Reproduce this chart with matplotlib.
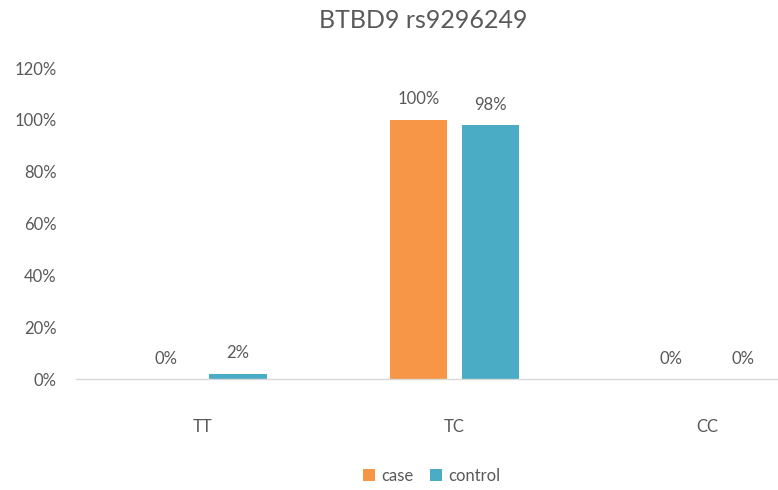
import matplotlib
matplotlib.use("Agg")
import matplotlib.pyplot as plt
import numpy as np

categories = ["TT", "TC", "CC"]
case_values = [0, 100, 0]
control_values = [2, 98, 0]
series_names = ["case", "control"]
y_ticks = [0, 20, 40, 60, 80, 100, 120]

plt.rcParams["font.family"] = ["Lato", "DejaVu Sans"]
text_color = "#595959"
colors = ["#F79646", "#4BACC6"]

fig = plt.figure(figsize=(7.78, 4.90), dpi=100)
ax = fig.add_axes([76 / 778, 111 / 490, 757 / 778, 311 / 490])

x = np.arange(len(categories))
width = 0.226
offset = 0.142
series = [case_values, control_values]
for i, (vals, name, col) in enumerate(zip(series, series_names, colors)):
    pos = x + (offset if i else -offset)
    ax.bar(pos, vals, width=width, color=col, label=name)
    for px, v in zip(pos, vals):
        ax.annotate(f"{v}%", (px, v), xytext=(0, 9), textcoords="offset points",
                    ha="center", va="bottom", fontsize=12, color=text_color)

ax.set_xlim(-0.5, 2.5)
ax.set_ylim(0, 120)
ax.set_yticks(y_ticks)
ax.set_yticklabels([f"{t}%" for t in y_ticks], fontsize=12, color=text_color)
ax.set_xticks(x)
ax.set_xticklabels(categories, fontsize=12, color=text_color)
ax.tick_params(axis="y", length=0, pad=14)
ax.tick_params(axis="x", length=0, pad=29)
for s in ["top", "right", "left"]:
    ax.spines[s].set_visible(False)
ax.spines["bottom"].set_color("#D9D9D9")
ax.spines["bottom"].set_linewidth(1.0)

fig.text(423 / 778, 1 - 20 / 490, "BTBD9 rs9296249", ha="center", va="center",
         fontsize=18, color=text_color)

fig.legend(loc="center", bbox_to_anchor=(432 / 778, 1 - 476 / 490), ncol=2,
           frameon=False, fontsize=12, handlelength=0.7, handleheight=0.7,
           handletextpad=0.4, columnspacing=1.0, labelcolor=text_color)

fig.savefig("out.png", dpi=100)
